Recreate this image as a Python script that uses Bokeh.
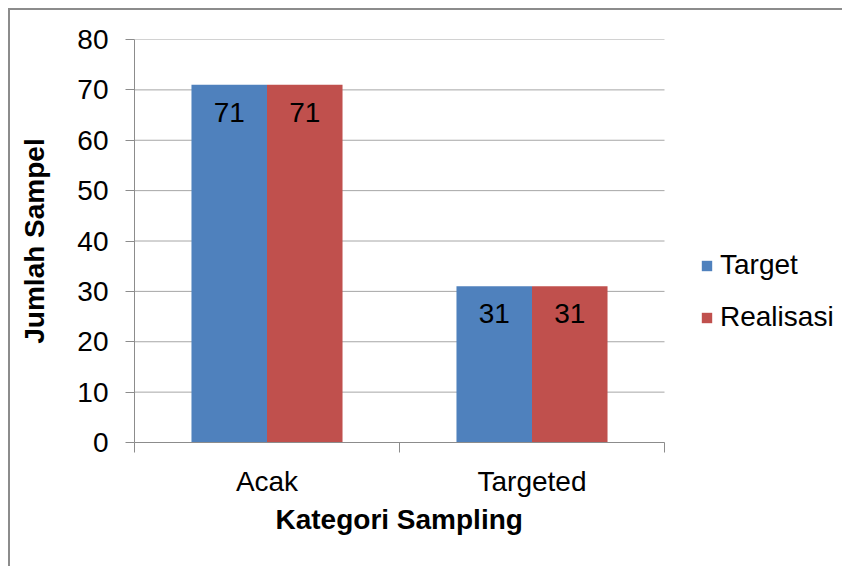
from bokeh.plotting import figure
from bokeh.models import (ColumnDataSource, Range1d, FixedTicker, Legend, LegendItem, Title)
from bokeh.transform import dodge
from bokeh.core.properties import value
from bokeh.embed import file_html
from bokeh.resources import INLINE

# ---- data ----
categories = ["Acak", "Targeted"]
target = [71, 31]
realisasi = [71, 31]
series_names = ["Target", "Realisasi"]
y_ticks = [0, 10, 20, 30, 40, 50, 60, 70, 80]
x_title = "Kategori Sampling"
y_title = "Jumlah Sampel"

BLUE = "#4F81BD"
RED = "#C0504D"
FONT = "Liberation Sans"
FS = "28px"
AX = "#8c8c8c"
GRID = "#a6a6a6"

W, H = 834, 558
BL, BT, BB = 124, 29, 126
plot_w = 530  # pixel width of the category area
frame_w = W - BL
ncat = len(categories)
x_end = ncat * frame_w / plot_w

xs = [i + 0.5 for i in range(ncat)]
src = ColumnDataSource(dict(x=xs, cat=categories, target=target, realisasi=realisasi,
                            tl=[str(v) for v in target], rl=[str(v) for v in realisasi]))

p = figure(width=W, height=H, output_backend="svg", toolbar_location=None,
           x_range=Range1d(0, x_end), y_range=Range1d(0, 80),
           min_border_left=BL, min_border_top=BT, min_border_right=0, min_border_bottom=BB)
p.styles = {"border-left": "2px solid #8c8c8c", "border-top": "2px solid #8c8c8c",
            "margin-left": "8px", "margin-top": "8px"}
p.outline_line_color = None
p.background_fill_color = "white"
p.border_fill_color = "white"
p.xgrid.grid_line_color = None
p.ygrid.grid_line_color = None

# horizontal gridlines limited to the category area
p.segment(x0=[0] * len(y_ticks), x1=[ncat] * len(y_ticks), y0=y_ticks, y1=y_ticks,
          line_color=GRID, line_width=1)

bw = 0.285
r1 = p.vbar(x=dodge("x", -bw / 2, range=p.x_range), top="target", width=bw, bottom=0,
            source=src, fill_color=BLUE, line_color=None)
r2 = p.vbar(x=dodge("x", bw / 2, range=p.x_range), top="realisasi", width=bw, bottom=0,
            source=src, fill_color=RED, line_color=None)

p.text(x=dodge("x", -bw / 2, range=p.x_range), y="target", text="tl", source=src,
       text_align="center", text_baseline="top", y_offset=18,
       text_font=value(FONT), text_font_size=FS, text_color="black")
p.text(x=dodge("x", bw / 2, range=p.x_range), y="realisasi", text="rl", source=src,
       text_align="center", text_baseline="top", y_offset=18,
       text_font=value(FONT), text_font_size=FS, text_color="black")

# x axis
xa = p.xaxis[0]
xa.bounds = (0, ncat)
xa.ticker = FixedTicker(ticks=xs, minor_ticks=[float(i) for i in range(ncat + 1)])
xa.major_label_overrides = {x: c for x, c in zip(xs, categories)}
xa.major_tick_line_color = None
xa.minor_tick_line_color = AX
xa.minor_tick_out = 10
xa.minor_tick_in = 0
xa.axis_line_color = AX
xa.major_label_text_font = FONT
xa.major_label_text_font_size = FS
xa.major_label_text_color = "black"
xa.major_label_standoff = 13

# x axis title, centred under the category area
xt = Title(text=x_title, align="left", offset=141, standoff=5,
           text_font=FONT, text_font_size=FS, text_font_style="bold", text_color="black")
p.add_layout(xt, "below")

ya = p.yaxis[0]
ya.ticker = FixedTicker(ticks=y_ticks)
ya.major_tick_out = 9
ya.major_tick_in = 0
ya.major_tick_line_color = AX
ya.minor_tick_line_color = None
ya.axis_line_color = AX
ya.major_label_text_font = FONT
ya.major_label_text_font_size = FS
ya.major_label_text_color = "black"
ya.major_label_standoff = 17
ya.axis_label = y_title
ya.axis_label_text_font = FONT
ya.axis_label_text_font_size = FS
ya.axis_label_text_font_style = "bold"
ya.axis_label_text_color = "black"
ya.axis_label_standoff = 24

legend = Legend(items=[LegendItem(label=series_names[0], renderers=[r1]),
                       LegendItem(label=series_names[1], renderers=[r2])],
                location=(566, 109), orientation="vertical",
                padding=0, margin=0, spacing=20,
                glyph_width=13, glyph_height=13, label_height=30, label_standoff=7,
                label_text_font=FONT, label_text_font_size=FS, label_text_color="black",
                border_line_color=None, background_fill_alpha=0)
p.add_layout(legend, "center")

open("out.html", "w").write(file_html(p, INLINE))
